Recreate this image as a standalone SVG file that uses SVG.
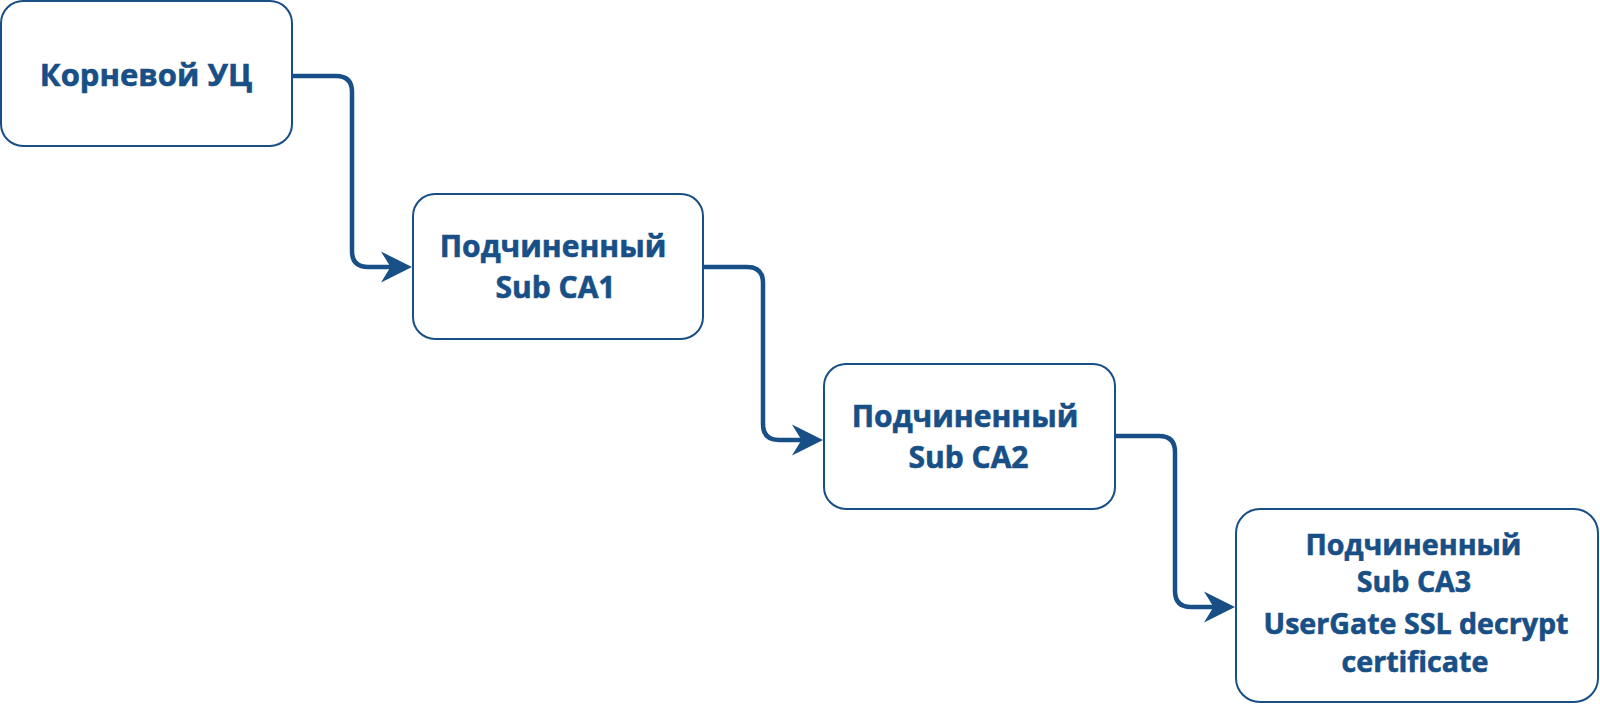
<svg xmlns="http://www.w3.org/2000/svg" width="1600" height="704" viewBox="0 0 1600 704">
  <style>
    .box { fill: #ffffff; stroke: #174f86; stroke-width: 2; }
    .lbl { fill: #174f86; stroke: #174f86; stroke-width: 0.6; font-family: "Open Sans", "Liberation Sans", sans-serif; font-weight: 700; font-size: 30px; text-anchor: middle; }
    .big { font-size: 31px; }
    .sm { font-size: 28.6px; }
    .edge { fill: none; stroke: #174f86; stroke-width: 4.5; }
  </style>
  <defs>
    <marker id="arr" markerUnits="userSpaceOnUse" markerWidth="34" markerHeight="34" viewBox="0 0 34 34" refX="24" refY="16.5" orient="auto">
      <path d="M33,16.5 L2,1 L11.5,16.5 L2,32 Z" fill="#174f86"/>
    </marker>
  </defs>
  <rect width="1600" height="704" fill="#ffffff"/>
  <g id="connectors">
    <path class="edge" d="M292,76 H336 Q352,76 352,92 V251 Q352,267 368,267 H403" marker-end="url(#arr)"/>
    <path class="edge" d="M703,267 H747 Q763,267 763,283 V424 Q763,440 779,440 H814" marker-end="url(#arr)"/>
    <path class="edge" d="M1115,436 H1159 Q1175,436 1175,452 V591 Q1175,607 1191,607 H1226" marker-end="url(#arr)"/>
  </g>
  <g id="root-ca">
    <rect class="box" x="1" y="1" width="291" height="145" rx="22"/>
    <text class="lbl big" x="146" y="86">Корневой УЦ</text>
  </g>
  <g id="sub-ca1">
    <rect class="box" x="413" y="194" width="290" height="145" rx="22"/>
    <text class="lbl" x="553" y="257">Подчиненный</text>
    <text class="lbl" x="555.5" y="298">Sub CA1</text>
  </g>
  <g id="sub-ca2">
    <rect class="box" x="824" y="364" width="291" height="145" rx="22"/>
    <text class="lbl" x="965" y="427">Подчиненный</text>
    <text class="lbl" x="968.5" y="468">Sub CA2</text>
  </g>
  <g id="sub-ca3">
    <rect class="box" x="1236" y="509" width="362" height="193" rx="24"/>
    <text class="lbl sm" x="1413.5" y="555">Подчиненный</text>
    <text class="lbl sm" x="1414" y="592">Sub CA3</text>
    <text class="lbl sm" x="1416" y="634">UserGate SSL decrypt</text>
    <text class="lbl sm" x="1415" y="672">certificate</text>
  </g>
</svg>
